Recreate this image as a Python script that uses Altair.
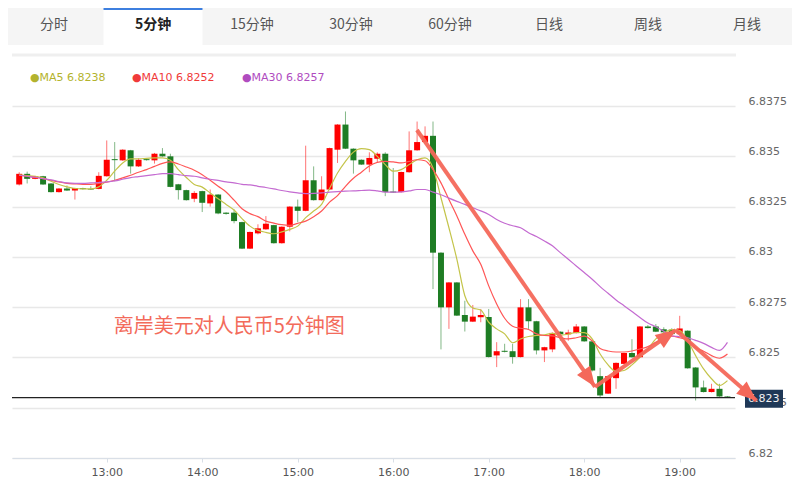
import math
import altair as alt
import pandas as pd

# ---------------- data ----------------
tabs = ["分时", "5分钟", "15分钟", "30分钟", "60分钟", "日线", "周线", "月线"]
selected_tab = "5分钟"

first_candle = "2024-01-01 12:05"

open_ = [6.83360, 6.83413, 6.83388, 6.83401, 6.83365, 6.83322, 6.83340, 6.83330, 6.83342, 6.83338,
         6.83338, 6.83401, 6.83486, 6.83480, 6.83530, 6.83450, 6.83486, 6.83480, 6.83513, 6.83500,
         6.83361, 6.83332, 6.83289, 6.83327, 6.83266, 6.83310, 6.83220, 6.83220, 6.83173, 6.83041,
         6.83117, 6.83137, 6.83158, 6.83068, 6.83150, 6.83250, 6.83229, 6.83381, 6.83282, 6.83335,
         6.83533, 6.83658, 6.83538, 6.83483, 6.83459, 6.83488, 6.83513, 6.83325, 6.83322, 6.83421,
         6.83530, 6.83571, 6.83602, 6.83021, 6.82749, 6.82873, 6.82711, 6.82678, 6.82700, 6.82701,
         6.82510, 6.82533, 6.82531, 6.82502, 6.82749, 6.82680, 6.82535, 6.82540, 6.82628, 6.82615,
         6.82621, 6.82654, 6.82580, 6.82407, 6.82320, 6.82397, 6.82468, 6.82522, 6.82501, 6.82654,
         6.82654, 6.82640, 6.82638, 6.82616, 6.82633, 6.82450, 6.82351, 6.82328, 6.82344, 6.82306]
high = [6.83421, 6.83424, 6.83403, 6.83403, 6.83367, 6.83342, 6.83355, 6.83344, 6.83344, 6.83351,
        6.83421, 6.83579, 6.83571, 6.83535, 6.83532, 6.83491, 6.83490, 6.83517, 6.83541, 6.83513,
        6.83363, 6.83334, 6.83327, 6.83329, 6.83335, 6.83312, 6.83222, 6.83236, 6.83175, 6.83126,
        6.83162, 6.83203, 6.83160, 6.83152, 6.83252, 6.83285, 6.83553, 6.83450, 6.83401, 6.83543,
        6.83660, 6.83723, 6.83540, 6.83485, 6.83520, 6.83520, 6.83520, 6.83442, 6.83424, 6.83624,
        6.83673, 6.83649, 6.83673, 6.83023, 6.82875, 6.82875, 6.82782, 6.82761, 6.82741, 6.82741,
        6.82576, 6.82568, 6.82568, 6.82790, 6.82790, 6.82682, 6.82553, 6.82624, 6.82630, 6.82638,
        6.82666, 6.82656, 6.82582, 6.82448, 6.82409, 6.82475, 6.82524, 6.82591, 6.82656, 6.82661,
        6.82666, 6.82650, 6.82645, 6.82707, 6.82635, 6.82452, 6.82385, 6.82369, 6.82369, 6.82308]
low = [6.83355, 6.83365, 6.83386, 6.83358, 6.83320, 6.83320, 6.83328, 6.83285, 6.83335, 6.83333,
       6.83336, 6.83399, 6.83376, 6.83478, 6.83414, 6.83447, 6.83479, 6.83464, 6.83498, 6.83346,
       6.83285, 6.83280, 6.83272, 6.83223, 6.83250, 6.83212, 6.83210, 6.83167, 6.83039, 6.83039,
       6.83112, 6.83135, 6.83066, 6.83066, 6.83127, 6.83173, 6.83227, 6.83280, 6.83280, 6.83333,
       6.83467, 6.83536, 6.83414, 6.83457, 6.83421, 6.83467, 6.83302, 6.83318, 6.83320, 6.83419,
       6.83528, 6.83569, 6.82840, 6.82540, 6.82642, 6.82706, 6.82629, 6.82676, 6.82675, 6.82500,
       6.82452, 6.82525, 6.82469, 6.82500, 6.82642, 6.82515, 6.82477, 6.82526, 6.82583, 6.82583,
       6.82619, 6.82578, 6.82430, 6.82303, 6.82318, 6.82344, 6.82466, 6.82499, 6.82499, 6.82644,
       6.82626, 6.82620, 6.82612, 6.82614, 6.82444, 6.82286, 6.82326, 6.82326, 6.82304, 6.82302]
close = [6.83413, 6.83388, 6.83401, 6.83360, 6.83322, 6.83340, 6.83330, 6.83342, 6.83337, 6.83335,
         6.83403, 6.83483, 6.83481, 6.83533, 6.83450, 6.83483, 6.83481, 6.83513, 6.83500, 6.83348,
         6.83332, 6.83282, 6.83318, 6.83269, 6.83310, 6.83216, 6.83214, 6.83178, 6.83041, 6.83124,
         6.83142, 6.83165, 6.83068, 6.83150, 6.83250, 6.83229, 6.83381, 6.83282, 6.83335, 6.83541,
         6.83658, 6.83538, 6.83480, 6.83459, 6.83492, 6.83513, 6.83322, 6.83320, 6.83422, 6.83530,
         6.83571, 6.83602, 6.83021, 6.82749, 6.82873, 6.82708, 6.82678, 6.82703, 6.82711, 6.82502,
         6.82531, 6.82528, 6.82502, 6.82749, 6.82680, 6.82535, 6.82551, 6.82622, 6.82615, 6.82624,
         6.82654, 6.82580, 6.82435, 6.82311, 6.82407, 6.82473, 6.82522, 6.82501, 6.82654, 6.82646,
         6.82628, 6.82625, 6.82616, 6.82644, 6.82446, 6.82351, 6.82328, 6.82344, 6.82306, 6.82302]

ma5 = [6.83408, 6.83404, 6.83401, 6.83393, 6.83376, 6.83360, 6.83348, 6.83340, 6.83338, 6.83338,
       6.83348, 6.83381, 6.83426, 6.83467, 6.83487, 6.83488, 6.83490, 6.83492, 6.83492, 6.83480,
       6.83434, 6.83395, 6.83360, 6.83347, 6.83318, 6.83289, 6.83261, 6.83233, 6.83190, 6.83153,
       6.83132, 6.83122, 6.83115, 6.83124, 6.83137, 6.83153, 6.83195, 6.83228, 6.83261, 6.83340,
       6.83417, 6.83475, 6.83521, 6.83538, 6.83533, 6.83500, 6.83459, 6.83426, 6.83434, 6.83459,
       6.83483, 6.83492, 6.83442, 6.83294, 6.83145, 6.82988, 6.82807, 6.82746, 6.82736, 6.82675,
       6.82642, 6.82617, 6.82573, 6.82592, 6.82604, 6.82609, 6.82612, 6.82620, 6.82610, 6.82616,
       6.82624, 6.82623, 6.82592, 6.82517, 6.82463, 6.82430, 6.82435, 6.82463, 6.82501, 6.82542,
       6.82592, 6.82621, 6.82638, 6.82633, 6.82583, 6.82509, 6.82443, 6.82394, 6.82361, 6.82385]
ma10 = [6.83406, 6.83401, 6.83396, 6.83389, 6.83381, 6.83373, 6.83366, 6.83363, 6.83361, 6.83361,
        6.83365, 6.83371, 6.83381, 6.83393, 6.83406, 6.83421, 6.83434, 6.83450, 6.83465, 6.83472,
        6.83462, 6.83447, 6.83431, 6.83409, 6.83381, 6.83351, 6.83323, 6.83282, 6.83239, 6.83215,
        6.83200, 6.83178, 6.83168, 6.83160, 6.83157, 6.83167, 6.83178, 6.83200, 6.83228, 6.83272,
        6.83305, 6.83351, 6.83391, 6.83421, 6.83452, 6.83470, 6.83475, 6.83472, 6.83467, 6.83475,
        6.83483, 6.83478, 6.83434, 6.83368, 6.83285, 6.83203, 6.83112, 6.83030, 6.82963, 6.82856,
        6.82766, 6.82695, 6.82655, 6.82645, 6.82639, 6.82617, 6.82609, 6.82607, 6.82598, 6.82592,
        6.82598, 6.82606, 6.82583, 6.82545, 6.82532, 6.82527, 6.82527, 6.82532, 6.82542, 6.82554,
        6.82575, 6.82596, 6.82606, 6.82598, 6.82585, 6.82550, 6.82531, 6.82509, 6.82496, 6.82517]
ma30 = [6.83406, 6.83401, 6.83396, 6.83389, 6.83383, 6.83375, 6.83368, 6.83366, 6.83366, 6.83368,
        6.83370, 6.83373, 6.83378, 6.83386, 6.83394, 6.83399, 6.83404, 6.83409, 6.83414, 6.83414,
        6.83409, 6.83404, 6.83401, 6.83393, 6.83386, 6.83380, 6.83373, 6.83368, 6.83361, 6.83358,
        6.83351, 6.83345, 6.83338, 6.83330, 6.83323, 6.83318, 6.83315, 6.83316, 6.83318, 6.83322,
        6.83325, 6.83327, 6.83328, 6.83330, 6.83332, 6.83328, 6.83322, 6.83322, 6.83323, 6.83328,
        6.83335, 6.83335, 6.83322, 6.83309, 6.83292, 6.83276, 6.83261, 6.83244, 6.83229, 6.83211,
        6.83186, 6.83167, 6.83155, 6.83145, 6.83120, 6.83101, 6.83079, 6.83055, 6.83021, 6.82988,
        6.82955, 6.82922, 6.82889, 6.82852, 6.82819, 6.82786, 6.82757, 6.82728, 6.82699, 6.82671,
        6.82653, 6.82630, 6.82608, 6.82603, 6.82598, 6.82585, 6.82570, 6.82550, 6.82535, 6.82575]

ma_names = ["MA5", "MA10", "MA30"]
ma_legend_values = ["6.8238", "6.8252", "6.8257"]

last_price = 6.823
y_ticks = [6.82, 6.8225, 6.825, 6.8275, 6.83, 6.8325, 6.835, 6.8375]
x_tick_hours = [13, 14, 15, 16, 17, 18, 19]

title_text = "离岸美元对人民币5分钟图"
title_time = "2024-01-01 13:04:20"
title_price = 6.82651

arrow_times = ["2024-01-01 16:14:54", "2024-01-01 18:06:48", "2024-01-01 18:57:30", "2024-01-01 19:48:18"]
arrow_prices = [6.83631, 6.82354, 6.82636, 6.82285]

# ---------------- layout / style ----------------
W, H = 723, 362
PAD = {"left": 4, "top": 88, "right": 57, "bottom": 19}
X_START = pd.Timestamp("2024-01-01 12:03:37")
X_END = pd.Timestamp("2024-01-01 19:31:36")
Y_MIN, Y_MAX = 6.82, 6.838

UP, DOWN = "#ff0000", "#1e7d24"
MA_COLORS = ["#c4c44a", "#ff5656", "#c46bd1"]
LEGEND_COLORS = ["#b3b32e", "#f03a3a", "#b04cbf"]
ARROW = "#f4685a"
FONT = "DejaVu Sans"
CJK = "Noto Sans CJK SC"


def to_dt(ts):
    return alt.DateTime(year=ts.year, month=ts.month, date=ts.day,
                        hours=ts.hour, minutes=ts.minute, seconds=ts.second)


def iso(ts):
    return pd.Timestamp(ts).strftime("%Y-%m-%dT%H:%M:%S")


def to_px(ts, p):
    x = (pd.Timestamp(ts) - X_START) / (X_END - X_START) * W
    y = (Y_MAX - p) / (Y_MAX - Y_MIN) * H
    return x, y


times = pd.date_range(first_candle, periods=len(close), freq="5min")
cdf = pd.DataFrame({"t": [iso(t) for t in times], "open": open_, "high": high,
                    "low": low, "close": close})
cdf["dir"] = ["up" if c > o else "down" for o, c in zip(open_, close)]

xs = alt.Scale(domain=[to_dt(X_START), to_dt(X_END)], nice=False)
ys = alt.Scale(domain=[Y_MIN, Y_MAX], zero=False, nice=False)

x_axis = alt.Axis(
    values=[to_dt(pd.Timestamp(f"2024-01-01 {h:02d}:00")) for h in x_tick_hours],
    format="%H:%M", title=None, grid=False, domainColor="#d9dfe7", tickColor="#d9dfe7",
    tickSize=4, labelPadding=4, labelFont=FONT, labelFontSize=11, labelColor="#555555")
y_axis = alt.Axis(
    orient="right", values=y_ticks, format=".4~f", title=None, domain=False, ticks=False,
    tickSize=0, labelPadding=13, grid=True, gridColor="#e8e8e8", gridWidth=1.5,
    labelFont=FONT, labelFontSize=11, labelColor="#666666", labelAlign="left",
    labelBaseline="bottom")

color = alt.Color("dir:N", scale=alt.Scale(domain=["up", "down"], range=[UP, DOWN]), legend=None)

wicks = alt.Chart(cdf).mark_rule(strokeWidth=1, opacity=0.55).encode(
    x=alt.X("t:T", scale=xs, axis=x_axis),
    y=alt.Y("low:Q", scale=ys, axis=y_axis),
    y2="high:Q", color=color)
bodies = alt.Chart(cdf).mark_bar(size=6).encode(
    x="t:T", y="open:Q", y2="close:Q", color=color)

ma_layers = []
for name, vals, col in zip(ma_names, [ma5, ma10, ma30], MA_COLORS):
    mdf = pd.DataFrame({"t": cdf["t"], "v": vals})
    ma_layers.append(alt.Chart(mdf).mark_line(color=col, strokeWidth=1.2,
                                              interpolate="monotone").encode(x="t:T", y="v:Q"))

one = pd.DataFrame({"p": [last_price], "label": [f"{last_price:g}"]})
price_rule = alt.Chart(one).mark_rule(color="#222222", strokeWidth=1.2).encode(
    y="p:Q", x=alt.value(0), x2=alt.value(W))
price_box = alt.Chart(one).mark_rect(color="#1f3857", yOffset=-8, y2Offset=10).encode(
    y="p:Q", y2="p:Q", x=alt.value(733), x2=alt.value(771))
price_text = alt.Chart(one).mark_text(align="left", baseline="middle", color="#f2f2f2",
                                      font=FONT, fontSize=11, dy=1).encode(
    y="p:Q", x=alt.value(736), text="label:N")

tdf = pd.DataFrame({"t": [iso(title_time)], "p": [title_price], "txt": [title_text]})
title_layer = alt.Chart(tdf).mark_text(align="left", baseline="middle", font=CJK, fontSize=20,
                                       color="#f36b5b").encode(x="t:T", y="p:Q", text="txt:N")

# arrows
seg_rows, head_rows = [], []
for i in range(len(arrow_times) - 1):
    seg_rows.append({"seg": i, "o": 0, "t": iso(arrow_times[i]), "p": arrow_prices[i]})
    seg_rows.append({"seg": i, "o": 1, "t": iso(arrow_times[i + 1]), "p": arrow_prices[i + 1]})
    x0, y0 = to_px(arrow_times[i], arrow_prices[i])
    x1, y1 = to_px(arrow_times[i + 1], arrow_prices[i + 1])
    ang = math.degrees(math.atan2(x1 - x0, -(y1 - y0))) % 360
    head_rows.append({"t": iso(arrow_times[i + 1]), "p": arrow_prices[i + 1], "ang": ang})
seg_df = pd.DataFrame(seg_rows)
head_df = pd.DataFrame(head_rows)
arrow_lines = alt.Chart(seg_df).mark_line(color=ARROW, strokeWidth=4, opacity=0.95).encode(
    x="t:T", y="p:Q", detail="seg:N", order="o:Q")
arrow_heads = alt.Chart(head_df).mark_point(
    shape="M0,0 L-0.8,2 L0.8,2 Z", filled=True, color=ARROW, opacity=1, size=400,
    strokeWidth=0).encode(x="t:T", y="p:Q", angle=alt.Angle("ang:Q", scale=None))

# legend texts and thin divider under the tab bar
dummy = pd.DataFrame({"a": [0]})
legend_layers = []
legend_x = [18, 120, 230]
for name, val, col, lx in zip(ma_names, ma_legend_values, LEGEND_COLORS, legend_x):
    ldf = pd.DataFrame({"txt": [f"\u25cf{name} {val}"]})
    legend_layers.append(alt.Chart(ldf).mark_text(align="left", baseline="middle", font=FONT,
                                                  fontSize=11, color=col).encode(
        x=alt.value(lx), y=alt.value(-18), text="txt:N"))
divider = alt.Chart(dummy).mark_rule(color="#efefef", strokeWidth=3).encode(
    x=alt.value(0), x2=alt.value(724), y=alt.value(-41))

main = alt.layer(wicks, bodies, *ma_layers, price_rule, price_box, price_text,
                 title_layer, arrow_lines, arrow_heads, divider, *legend_layers)

# tab bar
tab_df = pd.DataFrame({"tab": tabs, "sel": [t == selected_tab for t in tabs]})
tab_x = alt.X("tab:N", scale=alt.Scale(domain=tabs, range=[-7.5, 784.5],
                                       paddingInner=0, paddingOuter=0), axis=None)
tab_bg = alt.Chart(dummy).mark_rect(color="#f5f5f5").encode(
    x=alt.value(-4), x2=alt.value(780), y=alt.value(-88), y2=alt.value(-51))
tab_sel = alt.Chart(tab_df).transform_filter("datum.sel").mark_bar(color="#ffffff").encode(
    x=tab_x, y=alt.value(-88), y2=alt.value(-51))
tab_blue = alt.Chart(tab_df).transform_filter("datum.sel").mark_bar(color="#3d7fdf").encode(
    x=tab_x, y=alt.value(-88), y2=alt.value(-86))
tab_text = alt.Chart(tab_df).transform_filter("!datum.sel").mark_text(
    font=CJK, fontSize=14, color="#555555", baseline="middle").encode(
    x=tab_x, y=alt.value(-71), text="tab:N")
tab_text_sel = alt.Chart(tab_df).transform_filter("datum.sel").mark_text(
    font=CJK, fontSize=14, color="#222222", fontWeight="bold", baseline="middle").encode(
    x=tab_x, y=alt.value(-71), text="tab:N")
tab_layer = alt.layer(tab_bg, tab_sel, tab_blue, tab_text, tab_text_sel)

chart = alt.layer(tab_layer, main).resolve_scale(x="independent").properties(
    width=W, height=H, padding=PAD, autosize=alt.AutoSizeParams(type="none"),
    background="white").configure_view(strokeWidth=0)

chart.save("out.html", embed_options={"renderer": "svg", "actions": False})
